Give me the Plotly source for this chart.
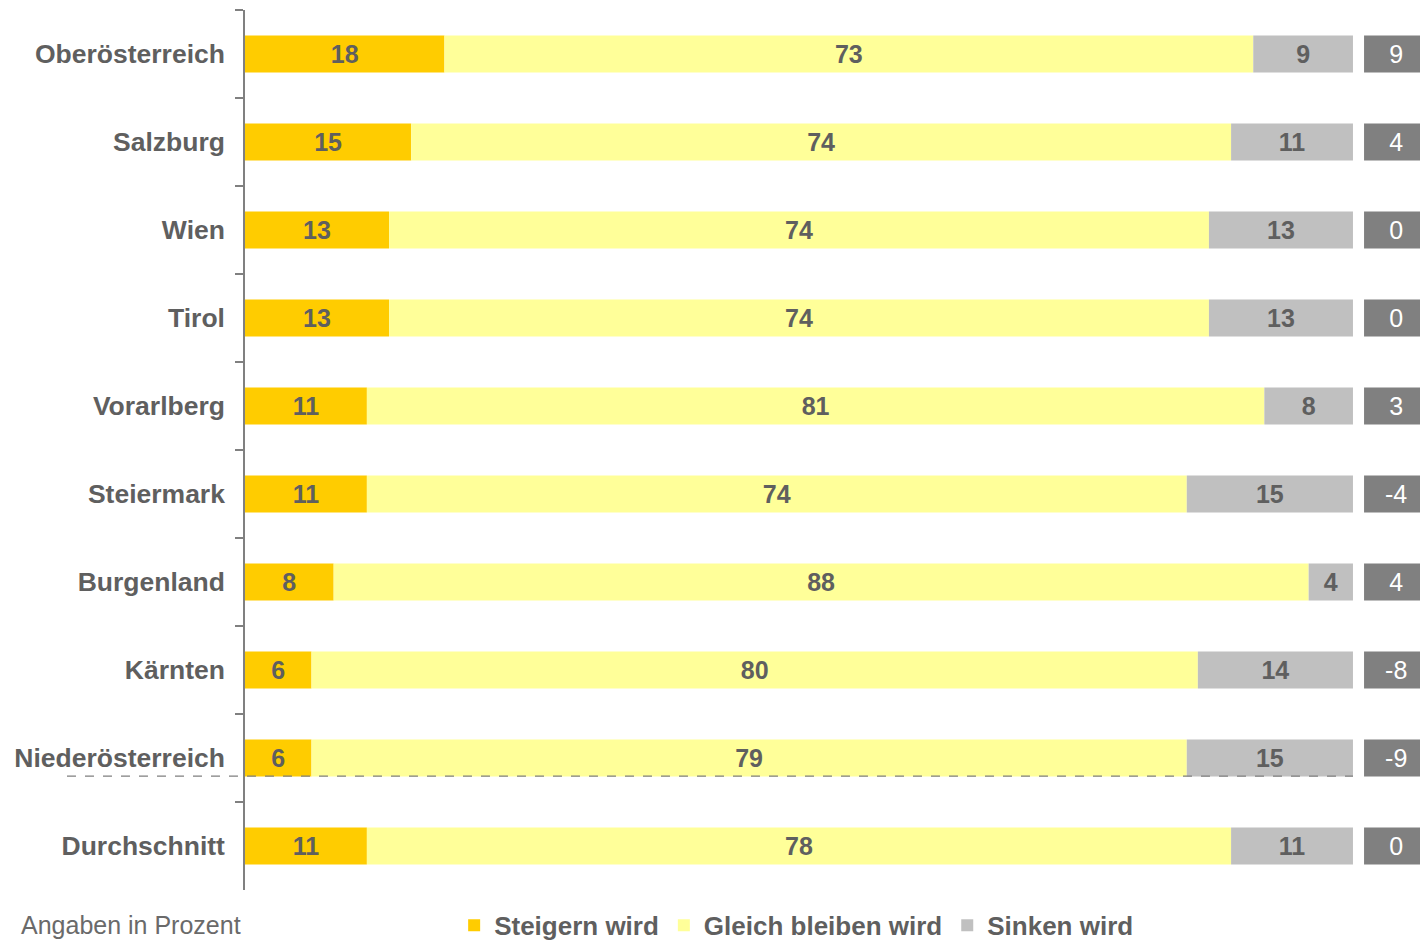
import plotly.graph_objects as go

# data
regions = ["Oberösterreich", "Salzburg", "Wien", "Tirol", "Vorarlberg",
           "Steiermark", "Burgenland", "Kärnten", "Niederösterreich", "Durchschnitt"]
steigern = [18, 15, 13, 13, 11, 11, 8, 6, 6, 11]
gleich = [73, 74, 74, 74, 81, 74, 88, 80, 79, 78]
sinken = [9, 11, 13, 13, 8, 15, 4, 14, 15, 11]
saldo = [9, 4, 0, 0, 3, -4, 4, -8, -9, 0]

series_names = ["Steigern wird", "Gleich bleiben wird", "Sinken wird"]
colors = ["#FFCC00", "#FFFF99", "#C0C0C0"]

txt_col = "#5f5f5f"
font_family = "Liberation Sans, Arial, sans-serif"
bar_w = 0.42

fig = go.Figure()

base = [0] * len(regions)
for name, vals, col in zip(series_names, [steigern, gleich, sinken], colors):
    fig.add_trace(go.Bar(
        y=regions, x=vals, base=base, name=name, orientation="h",
        marker=dict(color=col, line=dict(width=0)), width=bar_w,
        text=[str(v) for v in vals], textposition="inside",
        insidetextanchor="middle", textangle=0,
        textfont=dict(size=25, color=txt_col, family=font_family, weight="bold"),
        hoverinfo="skip"))
    base = [b + v for b, v in zip(base, vals)]

# saldo boxes on the right (run off the right edge like in the original)
box_start = 101
box_len = 5.8
fig.add_trace(go.Bar(
    y=regions, x=[box_len] * len(regions), base=[box_start] * len(regions),
    orientation="h", showlegend=False, width=bar_w,
    marker=dict(color="#808080", line=dict(width=0)),
    text=[str(v) for v in saldo], textposition="inside",
    insidetextanchor="middle", textangle=0,
    textfont=dict(size=25, color="white", family=font_family),
    hoverinfo="skip"))

fig.update_layout(
    width=1412, height=933,
    margin=dict(l=237, r=0, t=2, b=51),
    plot_bgcolor="white", paper_bgcolor="white",
    barmode="overlay",
    font=dict(family=font_family, color=txt_col),
    xaxis=dict(range=[0, 106.05], visible=False, fixedrange=True),
    yaxis=dict(
        categoryorder="array", categoryarray=regions, autorange="reversed",
        showline=True, linecolor="#808080", linewidth=1.5,
        ticks="outside", tickson="boundaries", ticklen=8, tickcolor="#808080",
        tickwidth=1.5, ticklabelstandoff=13, showgrid=False,
        tickfont=dict(size=26.5, color=txt_col, family=font_family, weight="bold")),
    legend=dict(
        orientation="h", x=0.178, xanchor="left",
        yref="container", y=0.042, yanchor="top",
        font=dict(size=26, color=txt_col, family=font_family, weight="bold"),
        traceorder="normal", itemwidth=30, tracegroupgap=0),
    showlegend=True,
)

# dashed separator above the average row
fig.add_shape(type="line", xref="paper", yref="paper",
              x0=-0.1515, x1=0.943, y0=0.1295, y1=0.1295,
              line=dict(color="#7f7f7f", width=1.2, dash="dash"))

fig.add_annotation(text="Angaben in Prozent", xref="paper", yref="paper",
                   x=-0.1923, y=-0.0398, xanchor="left", yanchor="middle",
                   showarrow=False,
                   font=dict(size=25, color="#6a6a6a", family=font_family))

fig.write_html("out.html")
